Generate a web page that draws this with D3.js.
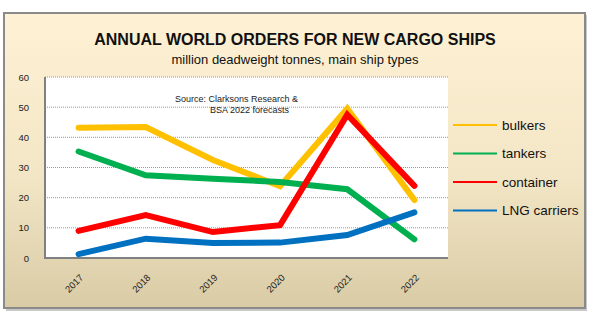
<!DOCTYPE html>
<html>
<head>
<meta charset="utf-8">
<script src="https://cdn.jsdelivr.net/npm/d3@7"></script>
<style>
  body { margin: 0; background: #fff; }
  svg { display: block; font-family: "Liberation Sans", Arial, sans-serif; }
</style>
</head>
<body>
<svg id="chart" width="595" height="323"></svg>
<script>
// values
var years = ["2017", "2018", "2019", "2020", "2021", "2022"];
var bulkers = [43.2, 43.4, 32.5, 23.8, 49.5, 19.2];
var tankers = [35.3, 27.4, 26.3, 25.2, 22.8, 6.2];
var container = [9.0, 14.2, 8.6, 10.9, 47.5, 23.9];
var lng = [1.3, 6.4, 5.0, 5.1, 7.6, 15.1];
var yTicks = [0, 10, 20, 30, 40, 50, 60];

var seriesNames = ["bulkers", "tankers", "container", "LNG carriers"];
var seriesColors = ["#FFC000", "#00B050", "#FF0000", "#0070C0"];
var seriesData = [bulkers, tankers, container, lng];

var svg = d3.select("#chart");
var defs = svg.append("defs");

var grad = defs.append("linearGradient")
  .attr("id", "bg").attr("x1", 0).attr("y1", 0).attr("x2", 0).attr("y2", 1);
grad.append("stop").attr("offset", "0%").attr("stop-color", "#FFF1D4");
grad.append("stop").attr("offset", "55%").attr("stop-color", "#F3E6C6");
grad.append("stop").attr("offset", "100%").attr("stop-color", "#D9CBA5");

// frame + shadow
svg.append("rect")
  .attr("x", 6).attr("y", 15).attr("width", 581).attr("height", 296)
  .style("fill", "#c8c8c8");
svg.append("rect")
  .attr("x", 4).attr("y", 13).attr("width", 581).attr("height", 295)
  .style("fill", "url(#bg)")
  .style("stroke", "#8a8a8a")
  .style("stroke-width", 2);

var margin = {left: 45, top: 77, right: 448, bottom: 258};

var x = d3.scaleBand()
  .domain(years)
  .range([margin.left, margin.right]);

var y = d3.scaleLinear()
  .domain([0, 60])
  .range([margin.bottom, margin.top]);

// plot area
svg.append("rect")
  .attr("x", margin.left).attr("y", margin.top)
  .attr("width", margin.right - margin.left)
  .attr("height", margin.bottom - margin.top)
  .style("fill", "#ffffff");

// gridlines
svg.append("g")
  .selectAll("line")
  .data(yTicks.slice(1))
  .enter().append("line")
  .attr("x1", margin.left).attr("x2", margin.right)
  .attr("y1", function (d) { return y(d); })
  .attr("y2", function (d) { return y(d); })
  .style("stroke", "#7f9cc8")
  .style("stroke-width", 1)
  .style("stroke-dasharray", "1,1");

// axes lines
svg.append("line")
  .attr("x1", margin.left).attr("x2", margin.left)
  .attr("y1", margin.top).attr("y2", margin.bottom + 1)
  .style("stroke", "#808080").style("stroke-width", 2);
svg.append("line")
  .attr("x1", margin.left).attr("x2", margin.right)
  .attr("y1", margin.bottom).attr("y2", margin.bottom)
  .style("stroke", "#808080").style("stroke-width", 2);

// y tick labels
var yAxis = d3.axisLeft(y).tickValues(yTicks).tickSize(0).tickPadding(0);
var yg = svg.append("g")
  .attr("transform", "translate(" + 29 + ",0)")
  .call(yAxis);
yg.select(".domain").remove();
yg.selectAll("text")
  .style("font-size", "9.5px")
  .style("fill", "#222")
  .style("font-family", "'Liberation Sans', Arial, sans-serif");

// x tick labels rotated (tick groups already sit at the band centre)
var xAxis = d3.axisBottom(x).tickSize(0).tickPadding(0);
var xg = svg.append("g")
  .call(xAxis);
xg.select(".domain").remove();
xg.selectAll("text")
  .attr("x", 0).attr("y", 0).attr("dy", "0.35em")
  .attr("transform", "translate(3,276) rotate(-45)")
  .style("text-anchor", "end")
  .style("font-size", "9.5px")
  .style("fill", "#222")
  .style("font-family", "'Liberation Sans', Arial, sans-serif");

// lines
var line = d3.line()
  .x(function (d, i) { return x(years[i]) + x.bandwidth() / 2; })
  .y(function (d) { return y(d); });

svg.append("g")
  .selectAll("path")
  .data(seriesData)
  .enter().append("path")
  .attr("d", line)
  .style("fill", "none")
  .style("stroke", function (d, i) { return seriesColors[i]; })
  .style("stroke-width", 6)
  .style("stroke-linecap", "round")
  .style("stroke-linejoin", "miter");

// titles
svg.append("text")
  .attr("x", 295).attr("y", 45)
  .style("text-anchor", "middle")
  .style("font-size", "16px")
  .style("font-weight", "bold")
  .style("fill", "#111")
  .text("ANNUAL WORLD ORDERS FOR NEW CARGO SHIPS");
svg.append("text")
  .attr("x", 295).attr("y", 64)
  .style("text-anchor", "middle")
  .style("font-size", "13px")
  .style("fill", "#111")
  .text("million deadweight tonnes, main ship types");

// source note
svg.append("text")
  .attr("x", 175).attr("y", 102)
  .style("font-size", "9px")
  .style("fill", "#222")
  .text("Source: Clarksons Research &");
svg.append("text")
  .attr("x", 210).attr("y", 113)
  .style("font-size", "9px")
  .style("fill", "#222")
  .text("BSA 2022 forecasts");

// legend
var legend = svg.append("g")
  .selectAll("g")
  .data(seriesNames)
  .enter().append("g")
  .attr("transform", function (d, i) { return "translate(453," + (125 + i * 28.5) + ")"; });
legend.append("line")
  .attr("x1", 0).attr("x2", 44)
  .style("stroke", function (d, i) { return seriesColors[i]; })
  .style("stroke-width", 2);
legend.append("text")
  .attr("x", 49).attr("y", 0).attr("dy", "0.35em")
  .style("font-size", "13.5px")
  .style("fill", "#111")
  .text(function (d) { return d; });
</script>
</body>
</html>
